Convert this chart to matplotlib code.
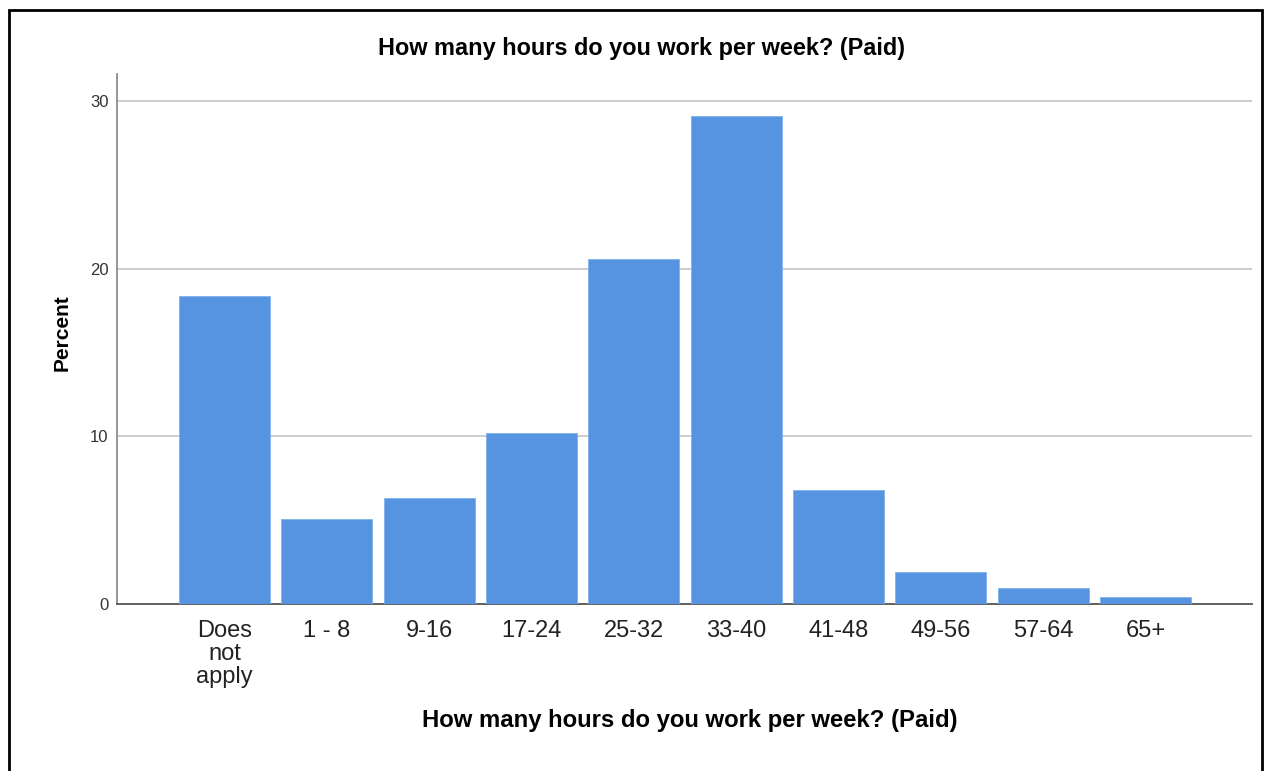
import matplotlib.pyplot as plt
from matplotlib.patches import Rectangle

# data
categories = ['Does\nnot\napply', '1 - 8', '9-16', '17-24', '25-32', '33-40', '41-48', '49-56', '57-64', '65+']
percent = [18.4, 5.1, 6.35, 10.2, 20.55, 29.1, 6.8, 1.9, 1.0, 0.45]
yticks = [0, 10, 20, 30]
title = 'How many hours do you work per week? (Paid)'

plt.rcParams['font.family'] = ['Liberation Sans', 'DejaVu Sans']

W, H = 1268, 771
fig = plt.figure(figsize=(W / 100, H / 100), dpi=100)

# axes placed in pixel terms
x0, x1, ytop, ybot = 117, 1252, 74, 604.3
ax = fig.add_axes([x0 / W, (H - ybot) / H, (x1 - x0) / W, (ybot - ytop) / H])

xs = list(range(len(categories)))
ax.bar(xs, percent, width=0.89, color='#5694e1', edgecolor='#7fb0ec', linewidth=0.6, zorder=3)

ax.set_xlim(-1.05, 10.04)
ax.set_ylim(0, 31.6)
ax.set_yticks(yticks)
ax.set_yticklabels([str(v) for v in yticks], fontsize=12, color='#333333')
ax.set_xticks(xs)
ax.set_xticklabels(categories, fontsize=17, color='#222222', linespacing=1.06)
ax.tick_params(axis='both', length=0)
ax.tick_params(axis='y', pad=6)
ax.tick_params(axis='x', pad=11.5)

for v in yticks[1:]:
    ax.axhline(v, color='#c8c8c8', linewidth=1.3, zorder=1)

for s in ['top', 'right']:
    ax.spines[s].set_visible(False)
ax.spines['left'].set_color('#8c8c8c')
ax.spines['left'].set_linewidth(1.3)
ax.spines['bottom'].set_color('#555555')
ax.spines['bottom'].set_linewidth(1.3)

fig.text(642 / W, 1 - 48 / H, title, ha='center', va='center', fontsize=16.9, fontweight='bold')
fig.text(690 / W, 1 - 720 / H, title, ha='center', va='center', fontsize=17.2, fontweight='bold')
fig.text(62 / W, 1 - 333 / H, 'Percent', ha='center', va='center', rotation=90,
         fontsize=15, fontweight='bold')

# document frame around the chart
fig.patches.append(Rectangle((9 / W, -0.05), (1262 - 9) / W, 1.05 - 10 / H,
                             transform=fig.transFigure, fill=False,
                             edgecolor='black', linewidth=2))

fig.savefig('out.png', dpi=100)
